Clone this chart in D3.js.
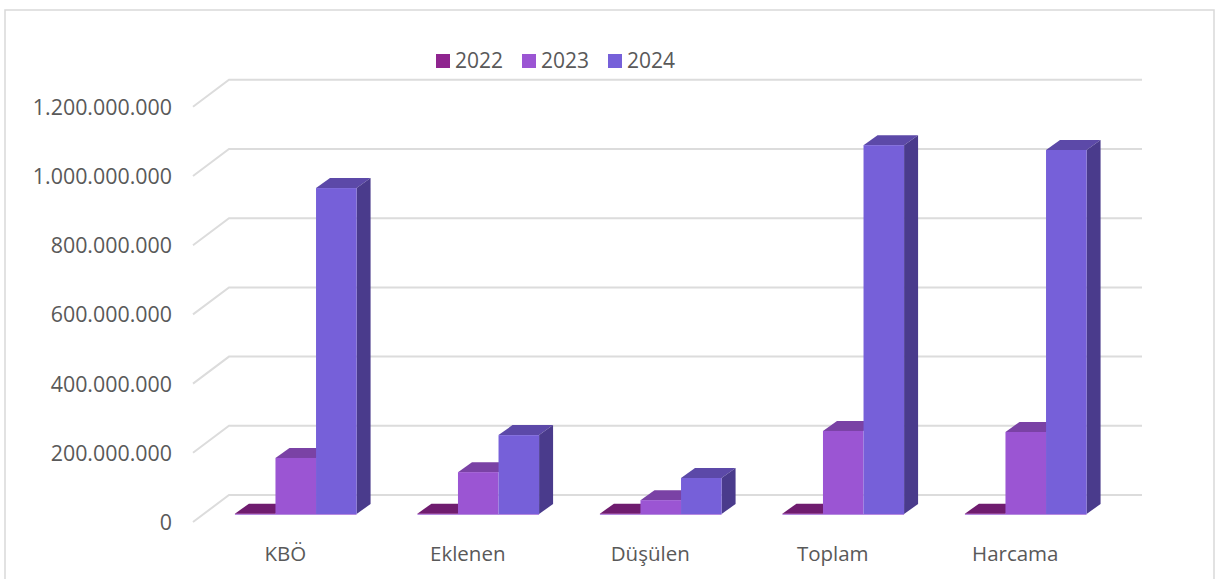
<!DOCTYPE html>
<html><head><meta charset="utf-8">
<style>html,body{margin:0;padding:0;background:#fff}svg{display:block}text{font-family:"Open Sans",sans-serif;fill:#595959}</style>
<script src="https://cdn.jsdelivr.net/npm/d3@7"></script></head>
<body><svg id="c" width="1215" height="579"></svg>
<script>
const categories=["KBÖ","Eklenen","Düşülen","Toplam","Harcama"];
const years=["2022","2023","2024"];
const v2022=[1000000,1000000,1000000,1000000,1000000];
const v2023=[162000000,121000000,40000000,240000000,237000000];
const v2024=[942000000,228000000,104000000,1066000000,1052000000];
const ticks=[0,200000000,400000000,600000000,800000000,1000000000,1200000000];
const front=["#8f258f","#9b55d3","#7660d9"];
const topC=["#6f1c6f","#7a42a5","#5c49a8"];
const side=["#5d185d","#65378a","#4a3b8c"];
const svg=d3.select("#c");
const depth={x:14,y:10};
const x=d3.scaleBand().domain(categories).range([204.5,1117]).paddingInner(1/3).paddingOuter(1/6);
const s=d3.scaleBand().domain(years).range([0,x.bandwidth()]);
const y=d3.scaleLinear().domain([0,1200000000]).range([514,98.8]);
const fmt=v=>d3.format(",")(v).replace(/,/g,".");
svg.append("rect").attr("x",5).attr("y",10).attr("width",1209).attr("height",575).attr("fill","#fff").attr("stroke","#d9d9d9").attr("stroke-width",1.5);
const g=svg.append("g");
ticks.forEach(t=>{
 const yb=y(t)-19;
 g.append("path").attr("d",`M193,${yb+27}L229,${yb}H1142`).attr("fill","none").attr("stroke","#dcdcdc").attr("stroke-width",2);
 svg.append("text").attr("x",172).attr("y",y(t)+16).attr("text-anchor","end").attr("font-size",21.4).text(fmt(t));
});
const series=[v2022,v2023,v2024];
categories.forEach((c,k)=>{
 years.forEach((yr,i)=>{
  const v=series[i][k],x0=x(c)+s(yr),w=s.bandwidth(),yt=y(v),yb=y(0);
  svg.append("path").attr("d",`M${x0},${yt}l${depth.x},${-depth.y}h${w}l${-depth.x},${depth.y}z`).attr("fill",topC[i]);
  if(i===2) svg.append("path").attr("d",`M${x0+w},${yt}l${depth.x},${-depth.y}V${yb-depth.y}l${-depth.x},${depth.y}z`).attr("fill",side[i]);
 });
 years.forEach((yr,i)=>{
  const v=series[i][k],x0=x(c)+s(yr),w=s.bandwidth(),yt=y(v),yb=y(0);
  svg.append("rect").attr("x",x0).attr("y",yt).attr("width",w).attr("height",yb-yt).attr("fill",front[i]);
 });
 svg.append("line").attr("x1",x(c)).attr("x2",x(c)+x.bandwidth()).attr("y1",514.5).attr("y2",514.5).attr("stroke","#b58ae0").attr("stroke-width",1);
 svg.append("text").attr("x",x(c)+x.bandwidth()/2-10.5).attr("y",561).attr("text-anchor","middle").attr("font-size",20.5).text(c);
});
const lx=[436,522,608];
years.forEach((yr,i)=>{
 svg.append("rect").attr("x",lx[i]).attr("y",54).attr("width",14).attr("height",14).attr("fill",front[i]);
 svg.append("text").attr("x",lx[i]+19).attr("y",68).attr("font-size",21).text(yr);
});
</script></body></html>
